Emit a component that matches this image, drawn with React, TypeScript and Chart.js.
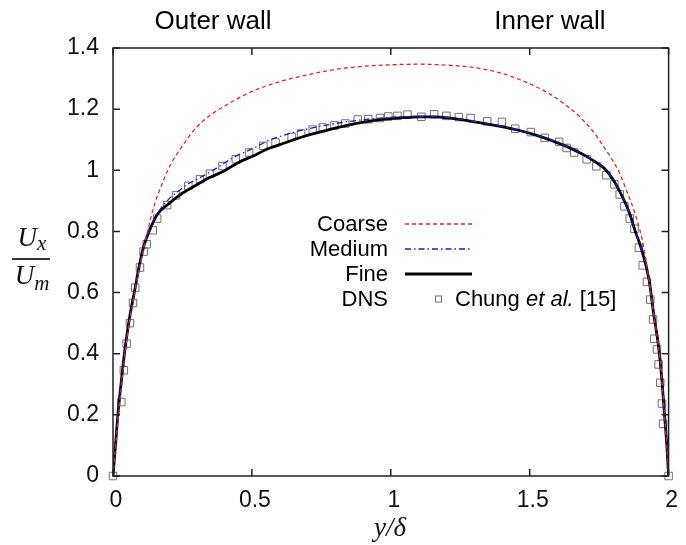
import React, { useEffect, useRef } from "react";
import { Chart, registerables } from "chart.js";

Chart.register(...registerables);

// ---------- data ----------
const xTickValues = [0, 0.5, 1, 1.5, 2];
const xTickLabels = ["0", "0.5", "1", "1.5", "2"];
const yTickValues = [0, 0.2, 0.4, 0.6, 0.8, 1, 1.2, 1.4];
const yTickLabels = ["0", "0.2", "0.4", "0.6", "0.8", "1", "1.2", "1.4"];

const coarseX = [0, 0.02, 0.046, 0.08, 0.11, 0.131, 0.15, 0.17, 0.203, 0.25, 0.3, 0.35, 0.43, 0.5, 0.6, 0.7, 0.8, 0.9, 1.0, 1.1, 1.2, 1.3, 1.4, 1.5, 1.56, 1.62, 1.68, 1.73, 1.77, 1.8, 1.824, 1.85, 1.875, 1.895, 1.91, 1.93, 1.946, 1.964, 1.976, 1.985, 1.994, 2.0];
const coarseY = [0, 0.2, 0.42, 0.61, 0.74, 0.826, 0.89, 0.94, 1.011, 1.08, 1.14, 1.18, 1.225, 1.258, 1.29, 1.312, 1.33, 1.34, 1.345, 1.347, 1.344, 1.336, 1.317, 1.283, 1.256, 1.22, 1.175, 1.125, 1.072, 1.03, 0.99, 0.93, 0.87, 0.81, 0.75, 0.64, 0.531, 0.422, 0.313, 0.204, 0.095, 0];

const mediumX = [0, 0.018, 0.044, 0.078, 0.11, 0.14, 0.167, 0.2, 0.227, 0.27, 0.311, 0.36, 0.43, 0.5, 0.56, 0.62, 0.68, 0.74, 0.8, 0.86, 0.92, 0.98, 1.04, 1.1, 1.16, 1.22, 1.28, 1.34, 1.4, 1.46, 1.52, 1.58, 1.64, 1.7, 1.74, 1.77, 1.8, 1.83, 1.86, 1.88, 1.9, 1.93, 1.946, 1.964, 1.976, 1.985, 1.994, 2.0];
const mediumY = [0, 0.205, 0.422, 0.607, 0.749, 0.82, 0.868, 0.905, 0.926, 0.955, 0.975, 1.0, 1.04, 1.07, 1.097, 1.116, 1.131, 1.143, 1.153, 1.161, 1.167, 1.172, 1.175, 1.176, 1.176, 1.171, 1.163, 1.154, 1.144, 1.132, 1.117, 1.098, 1.076, 1.049, 1.026, 1.006, 0.971, 0.92, 0.858, 0.8, 0.749, 0.64, 0.531, 0.422, 0.313, 0.204, 0.095, 0];

const fineX = [0, 0.009, 0.018, 0.03, 0.044, 0.06, 0.078, 0.095, 0.11, 0.13, 0.161, 0.2, 0.25, 0.3, 0.35, 0.4, 0.45, 0.5, 0.56, 0.62, 0.68, 0.74, 0.8, 0.86, 0.92, 0.98, 1.04, 1.1, 1.16, 1.22, 1.28, 1.34, 1.4, 1.46, 1.52, 1.58, 1.64, 1.7, 1.74, 1.77, 1.8, 1.83, 1.86, 1.88, 1.9, 1.93, 1.946, 1.964, 1.976, 1.985, 1.994, 2.0];
const fineY = [0, 0.1, 0.205, 0.31, 0.422, 0.52, 0.607, 0.69, 0.749, 0.8, 0.858, 0.89, 0.925, 0.952, 0.977, 0.998, 1.025, 1.045, 1.071, 1.09, 1.109, 1.124, 1.138, 1.15, 1.16, 1.167, 1.172, 1.175, 1.175, 1.17, 1.162, 1.153, 1.143, 1.131, 1.116, 1.097, 1.075, 1.048, 1.025, 1.005, 0.97, 0.92, 0.858, 0.8, 0.749, 0.64, 0.531, 0.422, 0.313, 0.204, 0.095, 0];

const dnsX = [0, 0.03, 0.039, 0.049, 0.061, 0.072, 0.08, 0.097, 0.11, 0.121, 0.143, 0.159, 0.195, 0.227, 0.271, 0.313, 0.349, 0.394, 0.442, 0.49, 0.541, 0.585, 0.643, 0.677, 0.719, 0.755, 0.797, 0.836, 0.881, 0.919, 0.961, 0.991, 1.024, 1.06, 1.11, 1.156, 1.2, 1.245, 1.287, 1.347, 1.4, 1.448, 1.504, 1.554, 1.606, 1.633, 1.66, 1.705, 1.74, 1.776, 1.805, 1.824, 1.841, 1.86, 1.877, 1.893, 1.907, 1.922, 1.934, 1.944, 1.948, 1.958, 1.964, 1.97, 1.976, 1.98, 2.0];
const dnsY = [0, 0.242, 0.346, 0.433, 0.5, 0.566, 0.616, 0.682, 0.734, 0.758, 0.804, 0.842, 0.886, 0.918, 0.949, 0.971, 0.989, 1.014, 1.036, 1.058, 1.08, 1.091, 1.109, 1.12, 1.133, 1.14, 1.147, 1.153, 1.166, 1.167, 1.171, 1.176, 1.178, 1.182, 1.175, 1.183, 1.178, 1.174, 1.171, 1.16, 1.158, 1.136, 1.125, 1.106, 1.093, 1.073, 1.058, 1.036, 1.013, 0.984, 0.954, 0.921, 0.882, 0.842, 0.809, 0.747, 0.689, 0.635, 0.577, 0.512, 0.449, 0.414, 0.365, 0.305, 0.237, 0.171, 0];

const legendLabels = ["Coarse", "Medium", "Fine", "DNS"];

// ---------- layout / style ----------
const W = 686;
const H = 545;
const AREA = { left: 113, right: 672, top: 48, bottom: 476 };
const SANS = "'Liberation Sans', Arial, Helvetica, sans-serif";
const SERIF = "'Liberation Serif', 'Times New Roman', serif";
const RED = "#e3262b";
const BLUE = "#1c1cc8";
const GRAY = "#707070";

const pts = (xs: number[], ys: number[]) => xs.map((x, i) => ({ x, y: ys[i] }));

const framePlugin = {
  id: "frameTicks",
  afterDatasetsDraw(chart: any) {
    const { ctx, chartArea: a, scales } = chart;
    const xs = scales.x;
    const ys = scales.y;
    ctx.save();
    ctx.strokeStyle = "#222";
    ctx.lineWidth = 1.5;
    ctx.strokeRect(a.left, a.top, a.right - a.left, a.bottom - a.top);
    const L = 7;
    ctx.beginPath();
    xTickValues.forEach((v) => {
      const p = xs.getPixelForValue(v);
      ctx.moveTo(p, a.bottom);
      ctx.lineTo(p, a.bottom - L);
      ctx.moveTo(p, a.top);
      ctx.lineTo(p, a.top + L);
    });
    yTickValues.forEach((v) => {
      const p = ys.getPixelForValue(v);
      ctx.moveTo(a.left, p);
      ctx.lineTo(a.left + L, p);
      ctx.moveTo(a.right, p);
      ctx.lineTo(a.right - L, p);
    });
    ctx.stroke();
    ctx.restore();
  },
};

const legendPlugin = {
  id: "customLegend",
  afterDraw(chart: any) {
    const { ctx } = chart;
    const textRight = 388;
    const lineL = 405;
    const lineR = 472;
    const y0 = 224;
    const dy = 25;
    ctx.save();
    ctx.font = `22px ${SANS}`;
    ctx.fillStyle = "#000";
    ctx.textAlign = "right";
    ctx.textBaseline = "middle";
    legendLabels.forEach((lab, i) => {
      ctx.fillText(lab, textRight, y0 + i * dy + 1);
    });
    const ds = chart.data.datasets;
    for (let i = 0; i < 3; i++) {
      const d = ds[i];
      ctx.beginPath();
      ctx.strokeStyle = d.borderColor;
      ctx.lineWidth = d.borderWidth;
      ctx.setLineDash(d.borderDash || []);
      const yy = y0 + i * dy;
      ctx.moveTo(lineL, yy);
      ctx.lineTo(lineR, yy);
      ctx.stroke();
    }
    ctx.setLineDash([]);
    // DNS marker
    const my = y0 + 3 * dy;
    ctx.strokeStyle = GRAY;
    ctx.lineWidth = 1;
    ctx.strokeRect(435.5, my - 3, 6, 6);
    // Chung et al. [15]
    ctx.textAlign = "left";
    ctx.fillStyle = "#000";
    let x = 455;
    ctx.font = `22px ${SANS}`;
    ctx.fillText("Chung ", x, my + 1);
    x += ctx.measureText("Chung ").width;
    ctx.font = `italic 22px ${SANS}`;
    ctx.fillText("et al.", x, my + 1);
    x += ctx.measureText("et al.").width;
    ctx.font = `22px ${SANS}`;
    ctx.fillText(" [15]", x, my + 1);
    ctx.restore();
  },
};

export default function App() {
  const ref = useRef<HTMLCanvasElement | null>(null);

  useEffect(() => {
    if (!ref.current) return;
    const chart = new Chart(ref.current, {
      type: "scatter",
      data: {
        datasets: [
          {
            label: legendLabels[0],
            data: pts(coarseX, coarseY),
            showLine: true,
            borderColor: RED,
            borderWidth: 1.3,
            borderDash: [4, 3],
            pointRadius: 0,
            cubicInterpolationMode: "monotone",
          },
          {
            label: legendLabels[1],
            data: pts(mediumX, mediumY),
            showLine: true,
            borderColor: BLUE,
            borderWidth: 1.3,
            borderDash: [6, 3, 1.5, 3],
            pointRadius: 0,
            cubicInterpolationMode: "monotone",
          },
          {
            label: legendLabels[2],
            data: pts(fineX, fineY),
            showLine: true,
            borderColor: "#000",
            borderWidth: 2.8,
            pointRadius: 0,
            cubicInterpolationMode: "monotone",
          },
          {
            label: legendLabels[3],
            data: pts(dnsX, dnsY),
            showLine: false,
            pointStyle: "rect",
            pointRadius: 5.3,
            pointBorderWidth: 1,
            pointBorderColor: GRAY,
            pointBackgroundColor: "rgba(0,0,0,0)",
            clip: false,
          } as any,
        ],
      },
      options: {
        responsive: false,
        animation: false,
        devicePixelRatio: 1,
        layout: {
          padding: { left: 0, right: W - AREA.right, top: AREA.top, bottom: 0 },
        },
        plugins: {
          legend: { display: false },
          tooltip: { enabled: false },
        },
        scales: {
          x: {
            type: "linear",
            min: 0,
            max: 2,
            grid: { display: false, drawTicks: false },
            border: { display: false },
            afterBuildTicks: (s: any) => {
              s.ticks = xTickValues.map((v) => ({ value: v }));
            },
            afterFit: (s: any) => {
              s.height = H - AREA.bottom;
            },
            ticks: {
              padding: 11,
              labelOffset: 3,
              maxRotation: 0,
              color: "#111",
              font: { family: SANS, size: 23 },
              callback: (v: any) => {
                const i = xTickValues.indexOf(Number(v));
                return i >= 0 ? xTickLabels[i] : "";
              },
            },
          },
          y: {
            type: "linear",
            min: 0,
            max: 1.4,
            grid: { display: false, drawTicks: false },
            border: { display: false },
            afterBuildTicks: (s: any) => {
              s.ticks = yTickValues.map((v) => ({ value: v }));
            },
            afterFit: (s: any) => {
              s.width = AREA.left;
            },
            ticks: {
              padding: 14,
              color: "#111",
              font: { family: SANS, size: 23 },
              callback: (v: any) => {
                const i = yTickValues.findIndex((t) => Math.abs(t - Number(v)) < 1e-9);
                return i >= 0 ? yTickLabels[i] : "";
              },
            },
          },
        },
      },
      plugins: [framePlugin, legendPlugin],
    });
    return () => chart.destroy();
  }, []);

  const abs = (s: React.CSSProperties): React.CSSProperties => ({ position: "absolute", whiteSpace: "nowrap", ...s });

  return (
    <div style={{ position: "absolute", left: 0, top: 0, width: W, height: H, background: "#fff", overflow: "hidden" }}>
      <canvas ref={ref} width={W} height={H} style={{ position: "absolute", left: 0, top: 0, width: W, height: H }} />
      <div style={abs({ left: 213, top: 7, transform: "translateX(-50%)", font: `26px/26px ${SANS}`, color: "#000" })}>Outer wall</div>
      <div style={abs({ left: 550, top: 7, transform: "translateX(-50%)", font: `26px/26px ${SANS}`, color: "#000" })}>Inner wall</div>
      {/* y-axis label: U_x / U_m */}
      <div style={abs({ left: 12, top: 224, width: 40, textAlign: "center", font: `italic 27px/27px ${SERIF}`, color: "#111" })}>
        U<span style={{ fontSize: 21, position: "relative", top: 4 }}>x</span>
      </div>
      <div style={abs({ left: 12, top: 258, width: 38, height: 2, background: "#333" })} />
      <div style={abs({ left: 12, top: 262, width: 40, textAlign: "center", font: `italic 27px/27px ${SERIF}`, color: "#111" })}>
        U<span style={{ fontSize: 21, position: "relative", top: 6 }}>m</span>
      </div>
      {/* x-axis label */}
      <div style={abs({ left: 390, top: 514, transform: "translateX(-50%)", font: `italic 27px/27px ${SERIF}`, color: "#111" })}>
        y/δ
      </div>
    </div>
  );
}
